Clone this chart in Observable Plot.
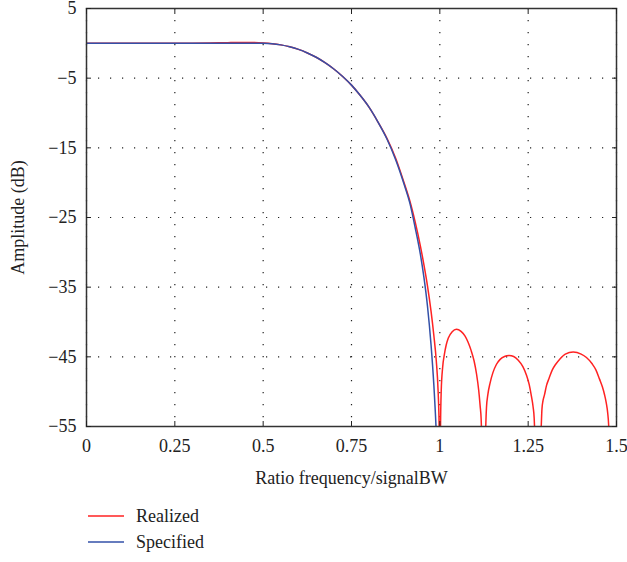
<!DOCTYPE html>
<html><head><meta charset="utf-8">
<script src="https://cdn.jsdelivr.net/npm/d3@7"></script>
<script src="https://cdn.jsdelivr.net/npm/@observablehq/plot@0.6"></script>
<style>
body{margin:0;background:#fff;font-family:"Liberation Serif",serif;}
#legend{padding-left:88px;font-size:18px;color:#222;}
.row{display:flex;align-items:center;height:26px;}
.row svg{margin-right:12px;}
</style></head><body><div id="chart"></div><div id="legend"></div><script>
const xTicks = [0, 0.25, 0.5, 0.75, 1, 1.25, 1.5];
const yTicks = [5, -5, -15, -25, -35, -45, -55];
const xLabel = "Ratio frequency/signalBW";
const yLabel = "Amplitude (dB)";
const seriesNames = ["Realized", "Specified"];
const seriesColors = ["#ff2222", "#3350a8"];

const specifiedFreq = [0, 0.1, 0.2, 0.3, 0.4, 0.5, 0.525, 0.55, 0.575, 0.6, 0.625, 0.65, 0.675, 0.7, 0.725, 0.75, 0.775, 0.8, 0.825, 0.85, 0.875, 0.9, 0.915, 0.93, 0.945, 0.955, 0.965, 0.975, 0.983, 0.99, 0.996, 1.0];
const specifiedDb = [0, 0, 0, 0, 0, 0, -0.05, -0.22, -0.49, -0.87, -1.38, -2.0, -2.77, -3.68, -4.76, -6.0, -7.5, -9.2, -11.3, -13.7, -16.7, -20.4, -22.9, -26.4, -30.3, -33.6, -37.7, -43.2, -49.0, -56.0, -65, -80];

const realizedFreq = [0, 0.1, 0.2, 0.3, 0.35, 0.4, 0.45, 0.5, 0.525, 0.55, 0.575, 0.6, 0.625, 0.65, 0.675, 0.7, 0.725, 0.75, 0.775, 0.8, 0.825, 0.85, 0.875, 0.9, 0.915, 0.93, 0.945, 0.955, 0.965, 0.975, 0.983, 0.99, 0.995, 0.998, 1.0,
  1.002, 1.004, 1.008, 1.013, 1.018, 1.024, 1.035, 1.047, 1.06, 1.071, 1.08, 1.088, 1.097, 1.104, 1.11, 1.114, 1.117, 1.118, 1.124,
  1.13, 1.132, 1.136, 1.142, 1.15, 1.16, 1.17, 1.183, 1.196, 1.209, 1.222, 1.235, 1.245, 1.253, 1.259, 1.264, 1.267, 1.268, 1.2775,
  1.287, 1.289, 1.292, 1.296, 1.302, 1.309, 1.318, 1.3275, 1.34, 1.355, 1.3775, 1.4, 1.415, 1.431, 1.442, 1.452, 1.46, 1.466, 1.471, 1.475, 1.478, 1.486];
const realizedDb = [0, 0, 0, 0.02, 0.05, 0.1, 0.13, 0.05, -0.05, -0.22, -0.49, -0.87, -1.38, -2.0, -2.77, -3.68, -4.76, -6.0, -7.5, -9.2, -11.3, -13.6, -16.5, -20.2, -22.6, -25.6, -29.1, -31.8, -34.8, -38.4, -41.9, -45.6, -49.8, -55, -75,
  -55, -49.8, -46.5, -44.6, -43.3, -42.3, -41.4, -41.05, -41.35, -42.0, -42.9, -44.0, -45.6, -47.5, -49.8, -52.0, -54.0, -55.5, -75,
  -55, -52.3, -50.4, -48.8, -47.3, -46.1, -45.4, -44.95, -44.8, -44.95, -45.5, -46.4, -47.6, -49.0, -50.6, -52.2, -53.8, -55, -75,
  -55, -52.5, -51.3, -50.5, -49.1, -48.1, -46.9, -46.1, -45.3, -44.6, -44.3, -44.6, -45.1, -46.0, -46.9, -48.2, -49.3, -50.4, -51.6, -53.0, -55, -75];

const specified = specifiedFreq.map((f, i) => ({f, db: specifiedDb[i]}));
const realized = realizedFreq.map((f, i) => ({f, db: realizedDb[i]}));

const gridStyle = {stroke: "#222", strokeOpacity: 1, strokeWidth: 1.2, strokeDasharray: "1.2,10.8"};
const blank = () => "";
const fmtX = d => `${d}`;
const fmtY = d => (d < 0 ? "\u2212" + Math.abs(d) : `${d}`);

const chart = Plot.plot({
  width: 627,
  height: 503,
  marginTop: 8,
  marginLeft: 86,
  marginRight: 11,
  marginBottom: 77,
  style: {fontFamily: "'Liberation Serif', serif", fontSize: "18px", color: "#222", background: "#fff", overflow: "visible"},
  x: {domain: [0, 1.5]},
  y: {domain: [-55, 5]},
  marks: [
    Plot.gridX(xTicks, gridStyle),
    Plot.gridY(yTicks, gridStyle),
    Plot.line(realized, {x: "f", y: "db", stroke: seriesColors[0], strokeWidth: 1.5, curve: "monotone-x", clip: true}),
    Plot.line(specified, {x: "f", y: "db", stroke: seriesColors[1], strokeWidth: 1.5, curve: "monotone-x", clip: true}),
    Plot.frame({stroke: "#333", strokeWidth: 1.5}),
    Plot.axisX({ticks: xTicks, anchor: "bottom", tickSize: -5, tickPadding: 18, tickFormat: fmtX, label: null, fontSize: 18}),
    Plot.axisX({ticks: xTicks, anchor: "top", tickSize: -5, tickFormat: blank, label: null}),
    Plot.axisY({ticks: yTicks, anchor: "left", tickSize: -5, tickPadding: 15, tickFormat: fmtY, label: null, fontSize: 18}),
    Plot.axisY({ticks: yTicks, anchor: "right", tickSize: -5, tickFormat: blank, label: null}),
    Plot.text([xLabel], {frameAnchor: "bottom", dy: 52, lineAnchor: "middle", textAnchor: "middle", fontSize: 18, fill: "#222"}),
    Plot.text([yLabel], {frameAnchor: "left", rotate: -90, dx: -68, textAnchor: "middle", lineAnchor: "middle", fontSize: 18, fill: "#222"})
  ]
});
document.getElementById("chart").appendChild(chart);

const legend = document.getElementById("legend");
seriesNames.forEach((name, i) => {
  const row = document.createElement("div");
  row.className = "row";
  row.innerHTML = `<svg width="36" height="4"><line x1="0" x2="36" y1="2" y2="2" stroke="${seriesColors[i]}" stroke-width="1.5"/></svg><span>${name}</span>`;
  legend.appendChild(row);
});
</script></body></html>
